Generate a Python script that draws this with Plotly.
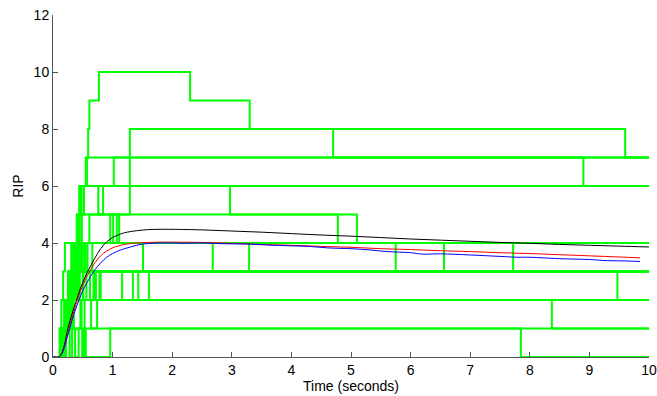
import plotly.graph_objects as go

# ---- green sample paths: jump times and levels after each jump (start at level 0, t=0)
p01_t = [0.12, 0.19, 0.26, 0.31, 0.40, 0.44, 0.55, 0.59, 0.61, 0.77, 2.30, 3.30, 4.70, 8.90]
p01_v = [1, 2, 3, 4, 5, 6, 7, 8, 9, 10, 9, 8, 7, 6]
p02_t = [0.14, 0.22, 0.29, 0.36, 0.44, 0.48, 0.57, 1.29, 9.60]
p02_v = [1, 2, 3, 4, 5, 6, 7, 8, 7]
p03_t = [0.16, 0.24, 0.33, 0.40, 0.48, 0.52, 0.76, 0.84, 1.02]
p03_v = [1, 2, 3, 4, 5, 6, 5, 6, 7]
p04_t = [0.13, 0.21, 0.30, 0.37, 0.61, 1.29, 2.97, 4.78]
p04_v = [1, 2, 3, 4, 5, 6, 5, 4]
p05_t = [0.14, 0.20, 0.28, 0.34, 0.40, 0.52]
p05_v = [1, 2, 3, 4, 5, 6]
p06_t = [0.15, 0.19, 0.27, 0.35, 0.44, 0.46, 1.29]
p06_v = [1, 2, 3, 4, 5, 6, 7]
p07_t = [0.17, 0.24, 0.32, 0.39, 0.45, 0.55, 1.07, 5.10]
p07_v = [1, 2, 3, 4, 3, 4, 5, 4]
p08_t = [0.11, 0.14, 0.17, 0.20, 0.48, 1.11]
p08_v = [1, 2, 3, 4, 5, 4]
p09_t = [0.16, 0.27, 0.36, 0.42, 0.96, 1.01]
p09_v = [1, 2, 3, 4, 5, 4]
p10_t = [0.12, 0.20, 0.27, 0.34, 0.38, 9.47]
p10_v = [1, 2, 3, 2, 3, 2]
p11_t = [0.15, 0.22, 0.30, 0.42, 0.50, 0.56, 8.37]
p11_v = [1, 2, 3, 2, 3, 2, 1]
p12_t = [0.17, 0.26, 0.33, 0.46, 0.53, 7.85]
p12_v = [1, 2, 1, 2, 1, 0]
p13_t = [0.18, 0.28, 0.32, 0.37, 0.43, 0.49, 0.52, 0.55, 0.96]
p13_v = [1, 0, 1, 0, 1, 0, 1, 0, 1]
p14_t = [0.13, 0.20, 0.25, 0.31, 0.36, 0.45, 0.50, 1.51]
p14_v = [1, 2, 3, 4, 3, 4, 3, 4]
p15_t = [0.14, 0.23, 0.30, 0.35, 2.68, 3.29, 5.75]
p15_v = [1, 2, 3, 4, 3, 4, 3]
p16_t = [0.16, 0.21, 0.28, 0.39, 0.43, 0.58, 0.66, 6.56, 7.72]
p16_v = [1, 2, 3, 4, 3, 4, 3, 4, 3]
p17_t = [0.19, 0.24, 0.33, 0.41, 0.62, 0.70, 1.16]
p17_v = [1, 2, 3, 2, 3, 2, 3]
p18_t = [0.20, 0.29, 0.40, 0.47, 0.53, 0.72, 0.80, 1.34, 1.43]
p18_v = [1, 2, 3, 4, 3, 2, 3, 2, 3]
p19_t = [0.22, 0.31, 0.45, 0.51, 0.68, 0.78, 1.61]
p19_v = [1, 2, 3, 2, 3, 2, 3]
p20_t = [0.14, 0.25, 0.35, 0.48, 0.64, 0.74, 0.88]
p20_v = [1, 2, 1, 2, 1, 2, 2]

paths = [(p01_t, p01_v), (p02_t, p02_v), (p03_t, p03_v), (p04_t, p04_v), (p05_t, p05_v),
         (p06_t, p06_v), (p07_t, p07_v), (p08_t, p08_v), (p09_t, p09_v), (p10_t, p10_v),
         (p11_t, p11_v), (p12_t, p12_v), (p13_t, p13_v), (p14_t, p14_v), (p15_t, p15_v),
         (p16_t, p16_v), (p17_t, p17_v), (p18_t, p18_v), (p19_t, p19_v), (p20_t, p20_v)]
t_end = 10

# ---- smooth curves
black_x = [0, 0.10, 0.15, 0.20, 0.25, 0.30, 0.35, 0.40, 0.45, 0.50, 0.55, 0.60, 0.70, 0.80, 0.90,
           1.0, 1.1, 1.2, 1.4, 1.6, 1.8, 2.0, 2.5, 3.0, 3.5, 4.0, 4.5, 5.0, 5.5, 6.0, 6.5, 7.0,
           7.5, 8.0, 8.5, 9.0, 9.5, 10.0]
black_y = [0, 0, 0.15, 0.50, 1.00, 1.38, 1.72, 2.02, 2.35, 2.62, 2.86, 3.07, 3.46, 3.80, 4.04,
           4.19, 4.29, 4.36, 4.43, 4.47, 4.48, 4.48, 4.46, 4.42, 4.38, 4.33, 4.28, 4.24, 4.19,
           4.14, 4.10, 4.06, 4.02, 3.99, 3.95, 3.92, 3.89, 3.86]
red_x = [0, 0.10, 0.15, 0.20, 0.25, 0.30, 0.35, 0.40, 0.45, 0.50, 0.55, 0.60, 0.70, 0.80, 0.90,
         1.0, 1.1, 1.2, 1.4, 1.6, 1.8, 2.0, 2.5, 3.0, 3.5, 4.0, 4.5, 5.0, 5.5, 6.0, 6.5, 7.0,
         7.5, 8.0, 8.5, 9.0, 9.5, 9.85]
red_y = [0, 0, 0.15, 0.45, 0.85, 1.25, 1.60, 1.95, 2.25, 2.50, 2.75, 2.95, 3.30, 3.55, 3.72,
         3.83, 3.90, 3.95, 4.00, 4.02, 4.03, 4.03, 4.02, 3.99, 3.95, 3.92, 3.88, 3.85, 3.80,
         3.77, 3.73, 3.70, 3.66, 3.63, 3.59, 3.55, 3.51, 3.48]
blue_x = [0, 0.10, 0.15, 0.20, 0.25, 0.30, 0.35, 0.40, 0.45, 0.50, 0.55, 0.60, 0.70, 0.80, 0.90,
          1.0, 1.1, 1.2, 1.3, 1.4, 1.5, 1.6, 1.8, 2.0, 2.2, 2.5, 2.8, 3.0, 3.3, 3.6, 4.0, 4.3,
          4.6, 5.0, 5.3, 5.6, 6.0, 6.2, 6.5, 7.0, 7.5, 7.8, 8.0, 8.5, 9.0, 9.3, 9.6, 9.85]
blue_y = [0, 0, 0.12, 0.40, 0.78, 1.15, 1.50, 1.80, 2.08, 2.33, 2.53, 2.72, 3.05, 3.30, 3.50,
          3.63, 3.73, 3.80, 3.86, 3.92, 3.96, 3.98, 4.00, 4.00, 3.99, 4.00, 3.98, 3.97, 3.96,
          3.93, 3.90, 3.88, 3.83, 3.80, 3.76, 3.70, 3.66, 3.61, 3.62, 3.58, 3.53, 3.50, 3.50,
          3.45, 3.42, 3.38, 3.37, 3.35]

x_ticks = [0, 1, 2, 3, 4, 5, 6, 7, 8, 9, 10]
y_ticks = [0, 2, 4, 6, 8, 10, 12]

fig = go.Figure()
for tt, vv in paths:
    xs = [0] + list(tt) + [t_end]
    ys = [0] + list(vv) + [vv[-1]]
    fig.add_trace(go.Scatter(x=xs, y=ys, mode="lines", line=dict(color="#00ff00", width=2, shape="hv"),
                             hoverinfo="skip", showlegend=False))

fig.add_trace(go.Scatter(x=black_x, y=black_y, mode="lines", line=dict(color="black", width=1, shape="spline"),
                         showlegend=False))
fig.add_trace(go.Scatter(x=red_x, y=red_y, mode="lines", line=dict(color="red", width=1, shape="spline"),
                         showlegend=False))
fig.add_trace(go.Scatter(x=blue_x, y=blue_y, mode="lines", line=dict(color="blue", width=1, shape="spline"),
                         showlegend=False))

axis_font = dict(family="Liberation Sans, Arial, sans-serif", size=14, color="black")
fig.update_layout(
    width=657, height=396,
    margin=dict(l=53, r=8, t=15, b=39, autoexpand=False),
    paper_bgcolor="white", plot_bgcolor="white",
    font=axis_font,
    xaxis=dict(range=[0, 10], tickvals=x_ticks, ticktext=[str(v) for v in x_ticks],
               showgrid=False, zeroline=False, showline=True, linecolor="#555555", linewidth=1,
               ticks="inside", ticklen=5, tickcolor="#555555", tickfont=axis_font, automargin=False,
               ticklabeloverflow="allow",
               title=dict(text="Time (seconds)", font=axis_font, standoff=0)),
    yaxis=dict(range=[0, 12], tickvals=y_ticks, ticktext=[str(v) for v in y_ticks],
               showgrid=False, zeroline=False, showline=True, linecolor="#555555", linewidth=1,
               ticks="inside", ticklen=5, tickcolor="#555555", tickfont=axis_font, automargin=False,
               ticklabeloverflow="allow",
               title=dict(text="RIP", font=axis_font, standoff=6)),
)

# remove the page's default body margin so the 657x396 figure fills the window exactly
fig.write_html("out.html", config={"displayModeBar": False},
               post_script="document.body.style.margin='0px';document.body.style.overflow='hidden';")
